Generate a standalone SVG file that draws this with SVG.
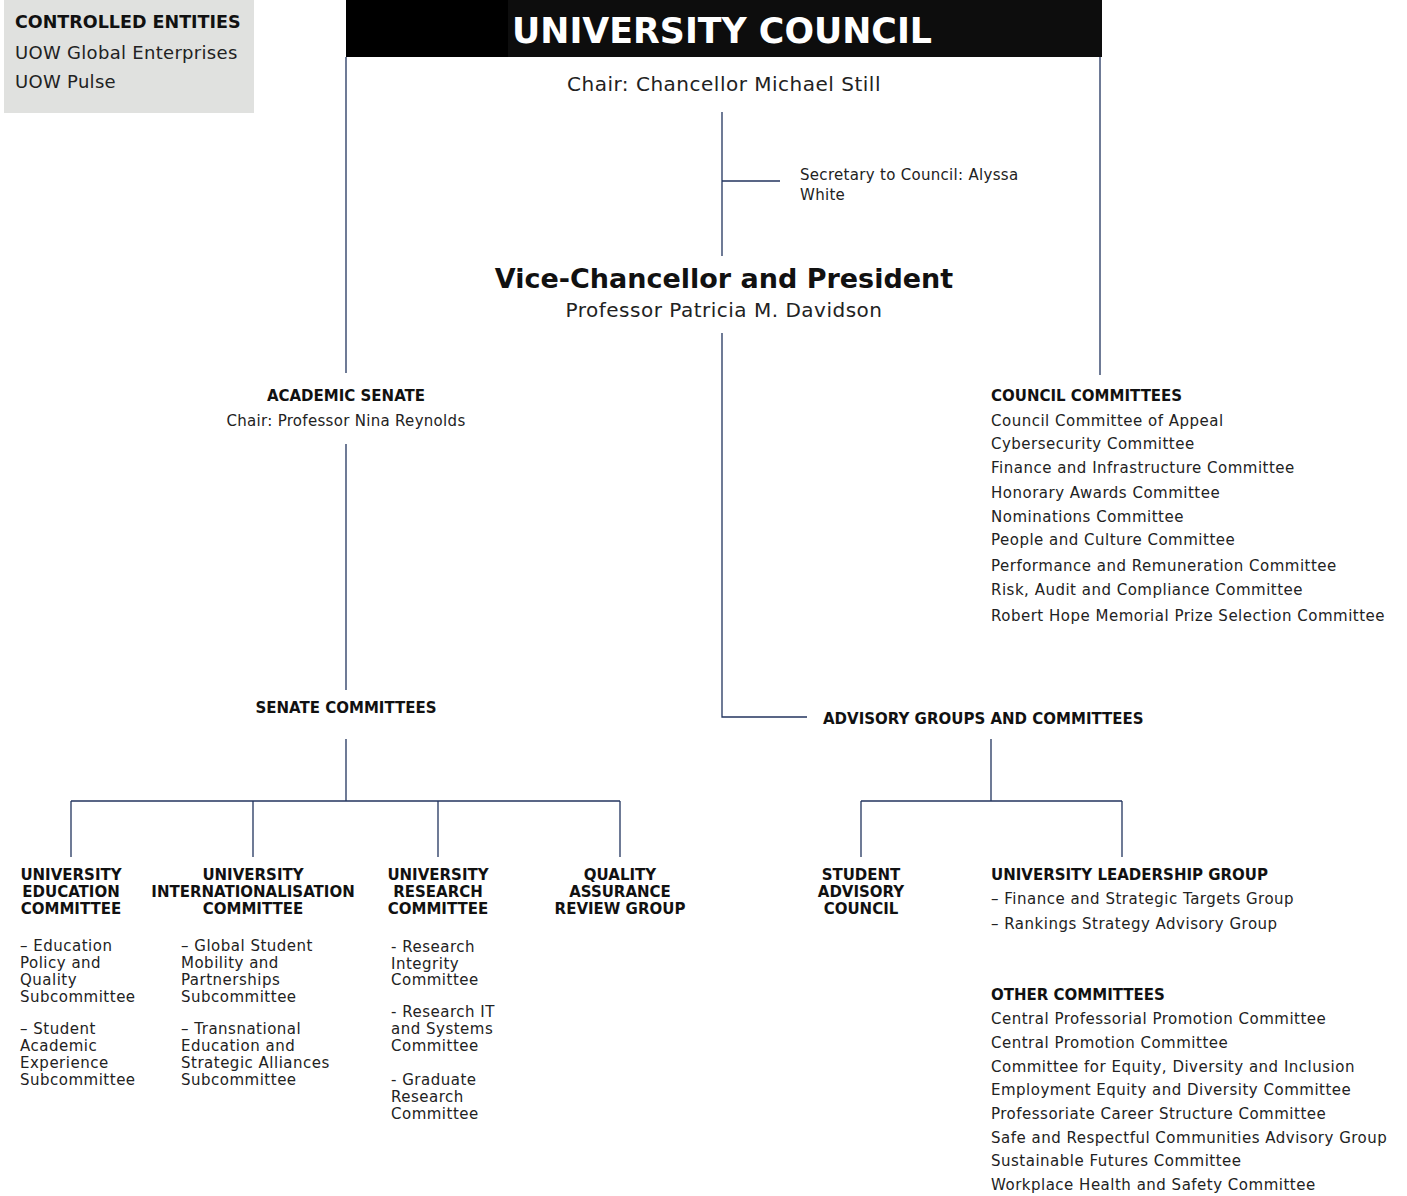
<svg xmlns="http://www.w3.org/2000/svg" width="1407" height="1196" viewBox="0 0 1407 1196">
<style>
text{font-family:"DejaVu Sans","Noto Sans",sans-serif;fill:#222}
.b{font-weight:bold;fill:#111}
.h{font-size:15px;font-weight:bold;fill:#111;letter-spacing:0}
.t{font-size:15px;letter-spacing:0.5px}
.c{text-anchor:middle}
.ln{stroke:#23355f;stroke-width:1.3;fill:none}
</style>
<rect width="1407" height="1196" fill="#fff"/>
<g id="controlled-entities">
<rect x="4" y="0" width="250" height="113" fill="#e0e1df"/>
<text x="15" y="28" class="h" style="font-size:17.5px">CONTROLLED ENTITIES</text>
<text x="15" y="59" style="font-size:18px;letter-spacing:0.3px">UOW Global Enterprises</text>
<text x="15" y="88" style="font-size:18px;letter-spacing:0.3px">UOW Pulse</text>
</g>
<g id="connectors">
<path class="ln" d="M346 57V373M1100 57V375M722 112V256M722 181H780M722 333V717H807M346 444V690M346 739V801M71 801H620M71 801V857M253 801V857M438 801V857M620 801V857M991 739V801M861 801H1122M861 801V857M1122 801V857"/>
</g>
<g id="university-council">
<rect x="346" y="0" width="756" height="57" fill="#000"/>
<rect x="508" y="0" width="594" height="57" fill="#0d0d0d"/>
<text x="512" y="43" style="font-size:34.8px;font-weight:bold;fill:#fff">UNIVERSITY COUNCIL</text>
<text x="724" y="91" class="c" style="font-size:20px;letter-spacing:0.5px">Chair: Chancellor Michael Still</text>
</g>
<g id="secretary">
<text x="800" y="180" class="t" style="letter-spacing:0.3px">Secretary to Council: Alyssa</text>
<text x="800" y="200" class="t" style="letter-spacing:0.3px">White</text>
</g>
<g id="vice-chancellor">
<text x="724" y="288" class="c b" style="font-size:27px">Vice-Chancellor and President</text>
<text x="724" y="317" class="c" style="font-size:20px;letter-spacing:0.5px">Professor Patricia M. Davidson</text>
</g>
<g id="academic-senate">
<text x="346" y="401" class="h c">ACADEMIC SENATE</text>
<text x="346" y="426" class="t c" style="letter-spacing:0.3px">Chair: Professor Nina Reynolds</text>
</g>
<g id="council-committees" class="t">
<text x="991" y="401" class="h">COUNCIL COMMITTEES</text>
<text x="991" y="426">Council Committee of Appeal</text>
<text x="991" y="449">Cybersecurity Committee</text>
<text x="991" y="473">Finance and Infrastructure Committee</text>
<text x="991" y="498">Honorary Awards Committee</text>
<text x="991" y="522">Nominations Committee</text>
<text x="991" y="545">People and Culture Committee</text>
<text x="991" y="571">Performance and Remuneration Committee</text>
<text x="991" y="595">Risk, Audit and Compliance Committee</text>
<text x="991" y="621">Robert Hope Memorial Prize Selection Committee</text>
</g>
<g id="senate-committees">
<text x="346" y="713" class="h c">SENATE COMMITTEES</text>
</g>
<g id="advisory-groups">
<text x="823" y="724" class="h">ADVISORY GROUPS AND COMMITTEES</text>
</g>
<g id="university-education-committee" class="t">
<text x="71" y="880" class="h c">UNIVERSITY</text>
<text x="71" y="897" class="h c">EDUCATION</text>
<text x="71" y="914" class="h c">COMMITTEE</text>
<text x="20" y="951">– Education</text>
<text x="20" y="968">Policy and</text>
<text x="20" y="985">Quality</text>
<text x="20" y="1002">Subcommittee</text>
<text x="20" y="1034">– Student</text>
<text x="20" y="1051">Academic</text>
<text x="20" y="1068">Experience</text>
<text x="20" y="1085">Subcommittee</text>
</g>
<g id="university-internationalisation-committee" class="t">
<text x="253" y="880" class="h c">UNIVERSITY</text>
<text x="253" y="897" class="h c">INTERNATIONALISATION</text>
<text x="253" y="914" class="h c">COMMITTEE</text>
<text x="181" y="951">– Global Student</text>
<text x="181" y="968">Mobility and</text>
<text x="181" y="985">Partnerships</text>
<text x="181" y="1002">Subcommittee</text>
<text x="181" y="1034">– Transnational</text>
<text x="181" y="1051">Education and</text>
<text x="181" y="1068">Strategic Alliances</text>
<text x="181" y="1085">Subcommittee</text>
</g>
<g id="university-research-committee" class="t">
<text x="438" y="880" class="h c">UNIVERSITY</text>
<text x="438" y="897" class="h c">RESEARCH</text>
<text x="438" y="914" class="h c">COMMITTEE</text>
<text x="391" y="952">- Research</text>
<text x="391" y="969">Integrity</text>
<text x="391" y="985">Committee</text>
<text x="391" y="1017">- Research IT</text>
<text x="391" y="1034">and Systems</text>
<text x="391" y="1051">Committee</text>
<text x="391" y="1085">- Graduate</text>
<text x="391" y="1102">Research</text>
<text x="391" y="1119">Committee</text>
</g>
<g id="quality-assurance-review-group">
<text x="620" y="880" class="h c">QUALITY</text>
<text x="620" y="897" class="h c">ASSURANCE</text>
<text x="620" y="914" class="h c">REVIEW GROUP</text>
</g>
<g id="student-advisory-council">
<text x="861" y="880" class="h c">STUDENT</text>
<text x="861" y="897" class="h c">ADVISORY</text>
<text x="861" y="914" class="h c">COUNCIL</text>
</g>
<g id="university-leadership-group" class="t">
<text x="991" y="880" class="h">UNIVERSITY LEADERSHIP GROUP</text>
<text x="991" y="904">– Finance and Strategic Targets Group</text>
<text x="991" y="929">– Rankings Strategy Advisory Group</text>
</g>
<g id="other-committees" class="t">
<text x="991" y="1000" class="h">OTHER COMMITTEES</text>
<text x="991" y="1024">Central Professorial Promotion Committee</text>
<text x="991" y="1048">Central Promotion Committee</text>
<text x="991" y="1072">Committee for Equity, Diversity and Inclusion</text>
<text x="991" y="1095">Employment Equity and Diversity Committee</text>
<text x="991" y="1119">Professoriate Career Structure Committee</text>
<text x="991" y="1143">Safe and Respectful Communities Advisory Group</text>
<text x="991" y="1166">Sustainable Futures Committee</text>
<text x="991" y="1190">Workplace Health and Safety Committee</text>
</g>
</svg>
